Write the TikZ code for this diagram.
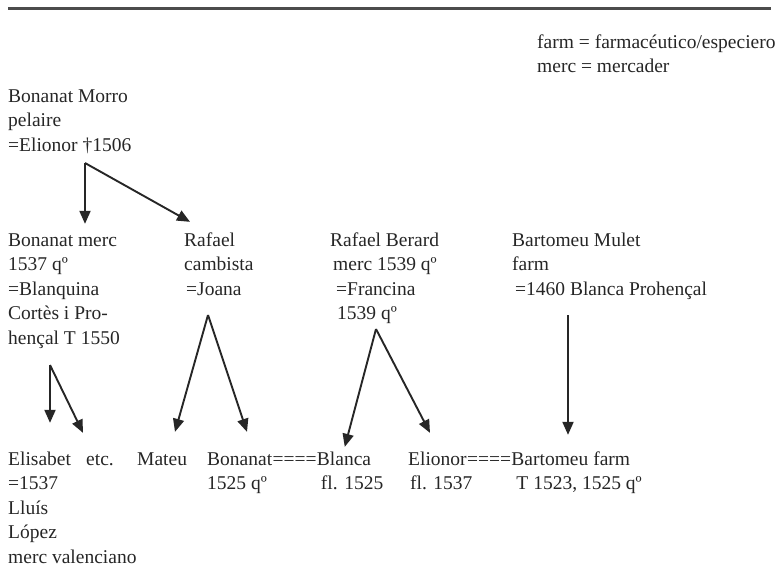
\documentclass[tikz,border=0pt]{standalone}
\usepackage{fontspec}
\setmainfont{Liberation Serif}
\usetikzlibrary{
  arrows.meta,  % Triangle arrow tips
  positioning   % relative placement
}

\tikzset{
  txt/.style={inner sep=0pt, align=left, text=black!85,
    font=\fontsize{19.5}{24.5}\selectfont},
  person/.style={txt, anchor=north west, yshift=17.15pt},
  marriage/.style={txt, anchor=north west},
  descent/.style={line width=1.9pt, draw=black!85,
    -{Triangle[length=13pt, width=11pt]}},
}

\begin{document}
\begin{tikzpicture}[x=1pt, y=-1pt]
  \useasboundingbox (0,0) rectangle (781,566);

  % top rule
  \draw[line width=3pt, black!70] (8,8) -- (771,8);

  % legend
  \node[person] (legend) at (537,48) {\strut farm = farmacéutico/especiero\\merc = mercader};

  % first generation
  \node[person] (morro) at (8,102) {\strut Bonanat Morro\\pelaire\\=Elionor †1506};

  % second generation
  \node[person] (bmerc) at (8,246) {\strut Bonanat merc\\1537 qº\\=Blanquina\\Cortès i Pro-\\hençal T 1550};
  \node[person] (rafael) at (184,246) {\strut Rafael\\cambista\\\hspace*{2pt}=Joana};
  \node[person] (berard) at (330,246) {\strut Rafael Berard\\\hspace*{3pt}merc 1539 qº\\\hspace*{6pt}=Francina\\\hspace*{7pt}1539 qº};
  \node[person] (mulet) at (512,246) {\strut Bartomeu Mulet\\farm\\\hspace*{3pt}=1460 Blanca Prohençal};

  % third generation
  \node[person] (elisabet) at (8,465) {\strut Elisabet\\=1537\\Lluís\\López\\merc valenciano};
  \node[person] (etc) at (86,465) {\strut etc.};
  \node[person] (mateu) at (137,465) {\strut Mateu};
  \node[person] (bonanat) at (207,465) {\strut Bonanat\\1525 qº};
  \node[marriage] (marr1) at (bonanat.north east) {\strut ====};
  \node[marriage] (blanca) at (marr1.north east) {\strut Blanca\\\hspace*{4pt}fl. 1525};
  \node[person] (elionor) at (408,465) {\strut Elionor\\\rlap{\hspace*{2pt}fl. 1537}};
  \node[marriage] (marr2) at (elionor.north east) {\strut ====};
  \node[marriage] (bartomeu) at (marr2.north east) {\strut Bartomeu farm\\\hspace*{5pt}T 1523, 1525 qº};

  % forks
  \coordinate (morro-fork) at (85,163);
  \coordinate (bmerc-fork) at (50,365);
  \coordinate (rafael-fork) at (208,315);
  \coordinate (berard-fork) at (376,329);
  \coordinate (mulet-fork) at (568,315);

  % arrow ends
  \coordinate (bmerc-in) at ([yshift=5pt]bmerc.north);
  \coordinate (rafael-in) at ([xshift=6pt, yshift=7pt]rafael.north west);
  \coordinate (elisabet-in) at ([yshift=25pt]elisabet.north);
  \coordinate (etc-in) at ([xshift=-3pt, yshift=15pt]etc.north west);
  \coordinate (mateu-in) at ([xshift=38pt, yshift=16pt]mateu.north west);
  \coordinate (bonanat-in) at ([xshift=40pt, yshift=16pt]bonanat.north west);
  \coordinate (blanca-in) at ([xshift=28pt, yshift=1pt]blanca.north west);
  \coordinate (elionor-in) at ([xshift=22pt, yshift=15pt]elionor.north west);
  \coordinate (bartomeu-in) at ([yshift=13pt]bartomeu.north);

  % descent lines
  \draw[descent] (morro-fork) -- (morro-fork |- bmerc-in);
  \draw[descent] (morro-fork) -- (rafael-in);
  \draw[descent] (bmerc-fork) -- (bmerc-fork |- elisabet-in);
  \draw[descent] (bmerc-fork) -- (etc-in);
  \draw[descent] (rafael-fork) -- (mateu-in);
  \draw[descent] (rafael-fork) -- (bonanat-in);
  \draw[descent] (berard-fork) -- (blanca-in);
  \draw[descent] (berard-fork) -- (elionor-in);
  \draw[descent] (mulet-fork) -- (mulet-fork |- bartomeu-in);
\end{tikzpicture}
\end{document}
